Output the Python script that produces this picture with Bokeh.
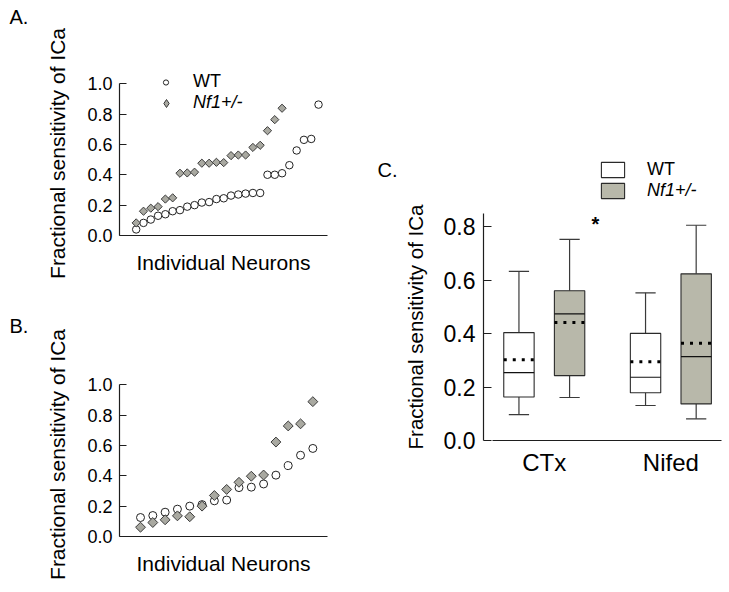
import numpy as np
from bokeh.plotting import figure
from bokeh.models import (Range1d, FixedTicker, PrintfTickFormatter, Legend,
                          LegendItem, Label, ColumnDataSource)
from bokeh.layouts import row, column
from bokeh.embed import file_html
from bokeh.resources import INLINE

FONT = "Liberation Sans"

# ---------------- data ----------------
# Panel A (individual neurons, sorted)
a_wt = [0.04, 0.083, 0.105, 0.13, 0.14, 0.16, 0.167, 0.19, 0.20, 0.217, 0.22,
        0.24, 0.245, 0.263, 0.27, 0.276, 0.28, 0.28, 0.40, 0.40, 0.41, 0.463,
        0.56, 0.63, 0.636, 0.862]
a_nf1 = [0.083, 0.16, 0.18, 0.19, 0.24, 0.248, 0.41, 0.412, 0.417, 0.476,
         0.476, 0.482, 0.48, 0.526, 0.53, 0.53, 0.58, 0.594, 0.69, 0.763, 0.838]

# Panel B
b_wt = [0.125, 0.138, 0.16, 0.18, 0.20, 0.21, 0.235, 0.24, 0.322, 0.325,
        0.346, 0.404, 0.467, 0.535, 0.58]
b_nf1 = [0.061, 0.092, 0.11, 0.136, 0.13, 0.20, 0.27, 0.31, 0.357, 0.397,
         0.405, 0.622, 0.728, 0.742, 0.888]

ab_ticks = [0.0, 0.2, 0.4, 0.6, 0.8, 1.0]
series_labels = ["WT", "Nf1+/-"]
panel_labels = ["A.", "B.", "C."]

# Panel C (box plots)
c_groups = ["CTx", "Nifed"]
c_ticks = [0.0, 0.2, 0.4, 0.6, 0.8]
wt_low = [0.097, 0.131]
wt_q1 = [0.163, 0.179]
wt_med = [0.254, 0.237]
wt_q3 = [0.404, 0.401]
wt_high = [0.633, 0.553]
wt_mean = [0.302, 0.295]
nf_low = [0.161, 0.081]
nf_q1 = [0.243, 0.137]
nf_med = [0.474, 0.314]
nf_q3 = [0.561, 0.624]
nf_high = [0.753, 0.806]
nf_mean = [0.442, 0.364]

# ---------------- styles ----------------
AX = "#1e1e1e"
DIAMOND_FILL = "#a9a9a1"
BOX_FILL = "#b8b8aa"
NAN = [np.nan]
H = 584


def blank(width, height, **kw):
    p = figure(width=width, height=height, x_range=Range1d(0, 1),
               y_range=Range1d(0, 1), output_backend="svg",
               toolbar_location=None, x_axis_location=None,
               y_axis_location=None, min_border=0, **kw)
    p.outline_line_color = None
    p.grid.visible = False
    p.background_fill_color = "white"
    p.border_fill_color = "white"
    return p


def panel_label(p, text, x, y):
    p.add_layout(Label(x=x, y=y, x_units="screen", y_units="screen",
                       text=text, text_font=FONT, text_font_size="20px",
                       text_color="black", text_baseline="alphabetic"))


def base_axes(p, tick_size, label_size):
    p.outline_line_color = None
    p.grid.visible = False
    p.background_fill_color = "white"
    p.border_fill_color = "white"
    for ax in p.axis:
        ax.axis_line_color = AX
        ax.axis_line_width = 1.2
        ax.major_tick_line_color = AX
        ax.major_tick_line_width = 1.2
        ax.minor_tick_line_color = None
        ax.major_label_text_font = FONT
        ax.major_label_text_font_size = tick_size
        ax.major_label_text_color = "black"
        ax.axis_label_text_font = FONT
        ax.axis_label_text_font_size = label_size
        ax.axis_label_text_font_style = "normal"
        ax.axis_label_text_color = "black"


def legend_one(p, renderer, label, loc, italic, font_size, gw, gh, standoff):
    lg = Legend(items=[LegendItem(label=label, renderers=[renderer])],
                location=loc, orientation="vertical",
                background_fill_alpha=0, border_line_color=None,
                padding=0, margin=0, spacing=0,
                glyph_width=int(gw), glyph_height=int(gh), label_height=int(gh),
                label_standoff=int(standoff),
                label_text_font=FONT, label_text_font_size=font_size,
                label_text_font_style="italic" if italic else "normal",
                label_text_color="black")
    p.add_layout(lg)


def scatter_panel(wt, nf1, xr, height, btop, bbot, csize, dsize, with_legend):
    p = figure(width=333, height=height, x_range=xr, y_range=Range1d(0, 1.08),
               output_backend="svg", toolbar_location=None,
               min_border_left=84, min_border_right=41,
               min_border_top=btop, min_border_bottom=bbot)
    base_axes(p, "18px", "21px")
    yax = p.yaxis[0]
    yax.ticker = FixedTicker(ticks=ab_ticks)
    yax.formatter = PrintfTickFormatter(format="%.1f")
    yax.bounds = (0, 1.0)
    yax.major_tick_in = 7
    yax.major_tick_out = 0
    yax.major_label_standoff = 7
    yax.axis_label = "Fractional sensitivity of ICa"
    yax.axis_label_standoff = 15
    xax = p.xaxis[0]
    xax.ticker = FixedTicker(ticks=[])
    xax.major_tick_in = 0
    xax.major_tick_out = 0
    xax.axis_label = "Individual Neurons"
    xax.axis_label_standoff = 15

    xw = list(range(1, len(wt) + 1))
    xn = list(range(1, len(nf1) + 1))
    p.scatter(xw, wt, marker="circle", size=csize, fill_color="white",
              line_color="#222", line_width=1)
    p.scatter(xn, nf1, marker="square", angle=np.pi / 4, size=dsize,
              fill_color=DIAMOND_FILL, line_color="#3a3a3a", line_width=1)

    if with_legend:
        # legend-only proxies (no visible data)
        lc = p.scatter(NAN, NAN, marker="circle", size=8, fill_color="white",
                       line_color="#222", line_width=1)
        ld = p.scatter(NAN, NAN, marker="diamond", size=8,
                       fill_color=DIAMOND_FILL, line_color="#3a3a3a", line_width=1)
        legend_one(p, lc, series_labels[0], (40, 142.6), False, "18px", 13, 20, 21)
        legend_one(p, ld, series_labels[1], (37, 122), True, "18px", 20, 20, 17)
    return p


# left strip with panel letters A. / B.
pLab = blank(35, H)
panel_label(pLab, panel_labels[0], 9, H - 16)
panel_label(pLab, panel_labels[1], 9, H - 325)

pA = scatter_panel(a_wt, a_nf1, Range1d(-1.29, 27.23), 300, 71, 65, 7.5, 5.8, True)
pB = scatter_panel(b_wt, b_nf1, Range1d(-0.706, 16.19), 284, 72, 48, 8, 7, False)

# strip with panel letter C.
pCmid = blank(30, H)
panel_label(pCmid, panel_labels[2], 9, H - 169)

# ---------------- panel C: legend header ----------------
pCtop = blank(327, 201, min_border_left=85, min_border_right=4,
              min_border_top=0, min_border_bottom=0)
fills = ["white", BOX_FILL]
proxies = [pCtop.vbar(x=NAN, width=1, bottom=NAN, top=NAN, fill_color=f,
                      line_color="#2a2a2a", line_width=1.1) for f in fills]
legend_one(pCtop, proxies[0], series_labels[0], (115, 21), False, "18px", 29, 19, 20)
legend_one(pCtop, proxies[1], series_labels[1], (115, 0), True, "18px", 29, 19, 20)

# ---------------- panel C: box plots ----------------
pC = figure(width=327, height=H - 201, x_range=Range1d(0.52, 2.40),
            y_range=Range1d(0, 0.85), output_backend="svg",
            toolbar_location=None, min_border_left=85, min_border_right=4,
            min_border_top=12, min_border_bottom=144)
base_axes(pC, "23px", "20.5px")
cy = pC.yaxis[0]
cy.ticker = FixedTicker(ticks=c_ticks)
cy.formatter = PrintfTickFormatter(format="%.1f")
cy.major_tick_in = 8
cy.major_tick_out = 0
cy.major_label_standoff = 8
cy.axis_label = "Fractional sensitivity of ICa"
cy.axis_label_standoff = 14
cx = pC.xaxis[0]
group_pos = [i + 1 for i in range(len(c_groups))]
cx.ticker = FixedTicker(ticks=group_pos)
cx.major_label_overrides = {g: name for g, name in zip(group_pos, c_groups)}
cx.major_label_text_font_size = "24px"
cx.major_tick_in = 0
cx.major_tick_out = 0
cx.major_label_standoff = 8
cx.bounds = (0.595, 2.40)

box_w = 0.24
cap_w = 0.16
offsets = [-0.2, 0.2]
series = [
    (wt_low, wt_q1, wt_med, wt_q3, wt_high, wt_mean, fills[0]),
    (nf_low, nf_q1, nf_med, nf_q3, nf_high, nf_mean, fills[1]),
]
for off, (lo, q1, md, q3, hi, mn, fill) in zip(offsets, series):
    xs = [g + off for g in group_pos]
    src = ColumnDataSource(dict(
        x=xs, bx0=[x - box_w / 2 for x in xs], bx1=[x + box_w / 2 for x in xs],
        cx0=[x - cap_w / 2 for x in xs], cx1=[x + cap_w / 2 for x in xs],
        low=lo, q1=q1, med=md, q3=q3, high=hi, mean=mn))
    wkw = dict(source=src, line_color="#3a3a3a", line_width=1.2)
    pC.segment(x0="x", y0="q3", x1="x", y1="high", **wkw)
    pC.segment(x0="x", y0="low", x1="x", y1="q1", **wkw)
    pC.segment(x0="cx0", y0="high", x1="cx1", y1="high", **wkw)
    pC.segment(x0="cx0", y0="low", x1="cx1", y1="low", **wkw)
    pC.vbar(x="x", width=box_w, bottom="q1", top="q3", source=src,
            fill_color=fill, line_color="#2a2a2a", line_width=1.1)
    pC.segment(x0="bx0", y0="med", x1="bx1", y1="med", source=src,
               line_color="#111", line_width=1.1)
    pC.segment(x0="bx0", y0="mean", x1="bx1", y1="mean", source=src,
               line_color="black", line_width=3, line_dash="3 6")

pC.add_layout(Label(x=112, y=217, x_units="screen", y_units="screen",
                    text="*", text_font=FONT, text_font_size="20px",
                    text_font_style="bold", text_align="center",
                    text_color="black", text_baseline="alphabetic"))

layout = row(column(pLab), column(pA, pB), column(pCmid), column(pCtop, pC))
open("out.html", "w").write(file_html(layout, INLINE, title="Fractional sensitivity of ICa"))
